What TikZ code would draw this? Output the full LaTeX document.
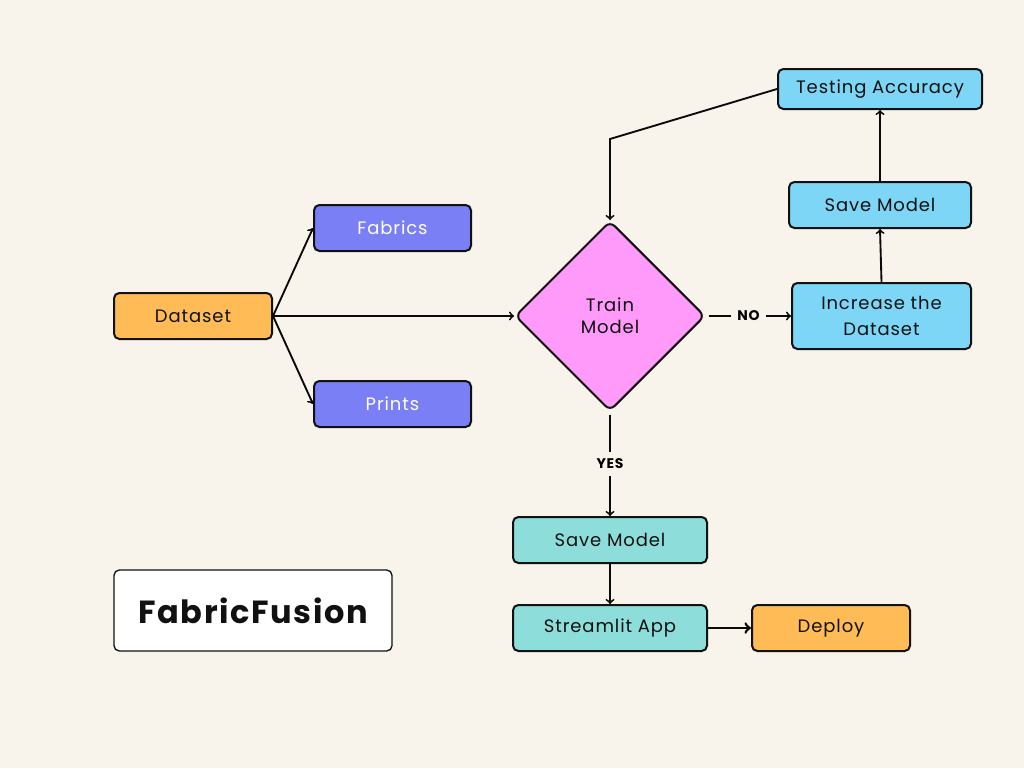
\documentclass[tikz,border=0pt]{standalone}
\usepackage{fontspec}
\setmainfont{Poppins}[LetterSpace=5]
\usetikzlibrary{arrows}
\usetikzlibrary{shapes.geometric}

\begin{document}
\begin{tikzpicture}[x=0.75pt,y=0.75pt,yscale=-1,xscale=1,
  box/.style={draw={rgb, 255:red, 17; green, 17; blue, 17 },line width=1.5pt,rounded corners=4pt,
    minimum width=118.5pt,minimum height=34.5pt,inner sep=0pt,font=\fontsize{13.5}{18}\selectfont,
    text={rgb, 255:red, 17; green, 17; blue, 17 },align=center},
  orangebox/.style={box,fill={rgb, 255:red, 255; green, 187; blue, 85 }},
  violetbox/.style={box,fill={rgb, 255:red, 122; green, 127; blue, 245 },text=white},
  skybox/.style={box,fill={rgb, 255:red, 125; green, 214; blue, 245 }},
  tealbox/.style={box,fill={rgb, 255:red, 141; green, 221; blue, 219 },minimum width=145.5pt},
  link/.style={draw={rgb, 255:red, 10; green, 10; blue, 10 },line width=1.4pt,-to},
  tag/.style={fill={rgb, 255:red, 248; green, 244; blue, 236 },font=\fontsize{10.5}{12}\bfseries,inner sep=5pt}
]
%Shape: Background
\fill [color={rgb, 255:red, 248; green, 244; blue, 236 }] (0,0) rectangle (1024,768) ;
\useasboundingbox (0,0) rectangle (1024,768) ;

%Shape: Rectangle
\node [orangebox] (dataset) at (193,316) {Dataset};
%Shape: Rectangle
\node [violetbox,minimum width=117.75pt] (fabrics) at (392.5,228) {Fabrics};
%Shape: Rectangle
\node [violetbox,minimum width=117.75pt] (prints) at (392.5,404) {Prints};
%Shape: Diamond
\node [box,diamond,minimum width=142.5pt,minimum height=142.5pt,fill={rgb, 255:red, 255; green, 153; blue, 250 },rounded corners=5pt,font=\fontsize{13.5}{16.5}\selectfont] (train) at (610,316) {Train\\Model};
%Shape: Rectangle
\node [skybox,minimum width=153pt,minimum height=30pt] (testacc) at (880,89) {Testing Accuracy};
%Shape: Rectangle
\node [skybox,minimum width=136.5pt] (savetop) at (880,205) {Save Model};
%Shape: Rectangle
\node [skybox,minimum width=134.25pt,minimum height=49.5pt,font=\fontsize{13.5}{19.5}\selectfont] (increase) at (881.5,316) {Increase the\\Dataset};
%Shape: Rectangle
\node [tealbox] (savebot) at (610,540) {Save Model};
%Shape: Rectangle
\node [tealbox] (streamlit) at (610,628) {Streamlit App};
%Shape: Rectangle
\node [orangebox] (deploy) at (831,628) {Deploy};
%Shape: Rectangle
\node [box,fill=white,minimum width=208.5pt,minimum height=60.75pt,line width=1pt,font=\fontsize{24}{28}\bfseries] (brand) at (253,610.5) {FabricFusion};

%Straight Lines
\draw [link] (dataset.east) -- (fabrics.west) ;
\draw [link] (dataset.east) -- (prints.west) ;
\draw [link] (dataset.east) -- (train.west) ;
%Straight Lines
\coordinate (turn) at (610,139) ;
\draw [link] (testacc.west) -- (turn) -- (train.north) ;
%Straight Lines
\draw [link,shorten <=2pt] (train.east) -- node [tag] {NO} (increase.west) ;
\draw [link,shorten <=2pt] (train.south) -- node [tag] {YES} (savebot.north) ;
%Straight Lines
\draw [link] (increase.north) -- (savetop.south) ;
\draw [link] (savetop.north) -- (testacc.south) ;
\draw [link] (savebot.south) -- (streamlit.north) ;
\draw [link,line width=2pt] (streamlit.east) -- (deploy.west) ;

\end{tikzpicture}
\end{document}
